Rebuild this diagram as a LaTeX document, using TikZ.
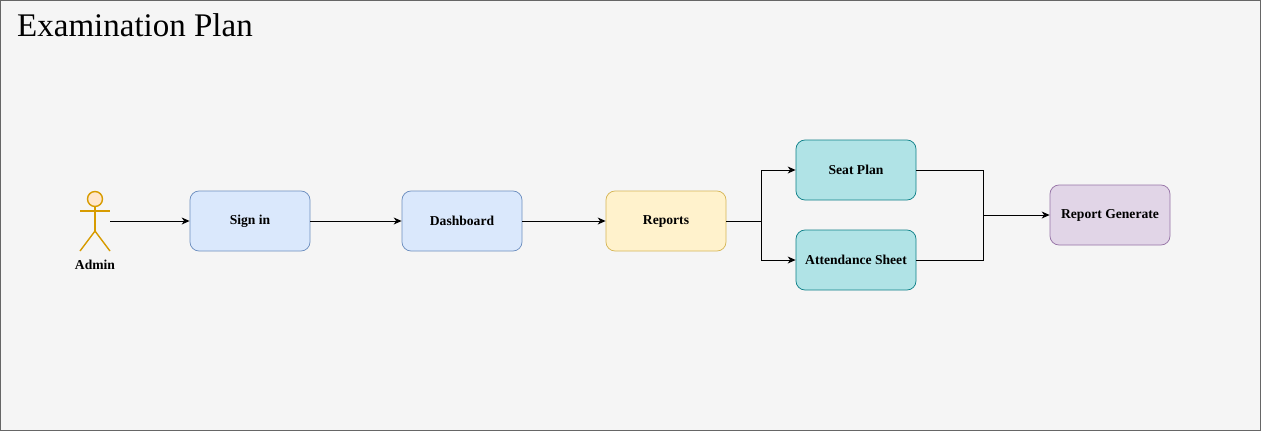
\documentclass[tikz,border=0pt]{standalone}
\usepackage{fontspec}
\setmainfont{Liberation Serif}
\usetikzlibrary{arrows.meta}
\definecolor{bgc}{HTML}{F5F5F5}
\definecolor{bgs}{HTML}{666666}
\definecolor{bluef}{HTML}{DAE8FC}
\definecolor{blues}{HTML}{6C8EBF}
\definecolor{yelf}{HTML}{FFF2CC}
\definecolor{yels}{HTML}{D6B656}
\definecolor{tealf}{HTML}{B0E3E6}
\definecolor{teals}{HTML}{0E8088}
\definecolor{purf}{HTML}{E1D5E7}
\definecolor{purs}{HTML}{9673A6}
\definecolor{orf}{HTML}{FFE6CC}
\definecolor{ors}{HTML}{D79B00}
\tikzset{
  lbl/.style={font=\fontsize{13.6}{16}\selectfont\bfseries},
  box/.style={draw, rounded corners=9pt, minimum width=120pt, minimum height=60pt, inner sep=0pt, lbl, line width=0.75pt},
  bluebox/.style={box, fill=bluef, draw=blues},
  yelbox/.style={box, fill=yelf, draw=yels},
  tealbox/.style={box, fill=tealf, draw=teals},
  purbox/.style={box, fill=purf, draw=purs},
  conn/.style={line width=0.9pt, -{Stealth[length=8pt,width=7pt,inset=2.5pt]}},
  plain/.style={line width=0.9pt},
}
\begin{document}
\begin{tikzpicture}[x=1pt,y=-1pt]
\useasboundingbox (0,0) rectangle (1261,431);
\draw[fill=bgc, draw=bgs, line width=0.8pt] (0.5,0.5) rectangle (1260.5,430.5);
\node[anchor=base west, inner sep=0pt, font=\fontsize{33}{38}\selectfont] (title) at (17,36) {Examination Plan};
% actor
\begin{scope}[draw=ors, line width=1.4pt]
\draw[fill=orf] (95,199) circle (7.5pt);
\draw (95,206.5) -- (95,231);
\draw (80,211) -- (110,211);
\draw (80,251) -- (95,231) -- (110,251);
\end{scope}
\coordinate (actor) at (110,221);
\node[lbl, inner sep=0pt] (adminlbl) at (95,265) {Admin};
% boxes
\node[bluebox] (signin) at (250,221) {Sign in};
\node[bluebox] (dash) at (462,221) {Dashboard};
\node[yelbox] (rep) at (666,221) {Reports};
\node[tealbox] (seat) at (856,170) {Seat Plan};
\node[tealbox] (att) at (856,260) {Attendance Sheet};
\node[purbox] (gen) at (1110,215) {Report Generate};
% connectors
\draw[conn] (actor) -- (signin.west);
\draw[conn] (signin.east) -- (dash.west);
\draw[conn] (dash.east) -- (rep.west);
\coordinate (split) at (761,221);
\coordinate (join) at (983,215);
\draw[conn] (rep.east) -- (split) |- (seat.west);
\draw[conn] (split) |- (att.west);
\draw[plain] (seat.east) -| (join);
\draw[plain] (att.east) -| (join);
\draw[conn] (join) -- (gen.west);
\end{tikzpicture}
\end{document}
